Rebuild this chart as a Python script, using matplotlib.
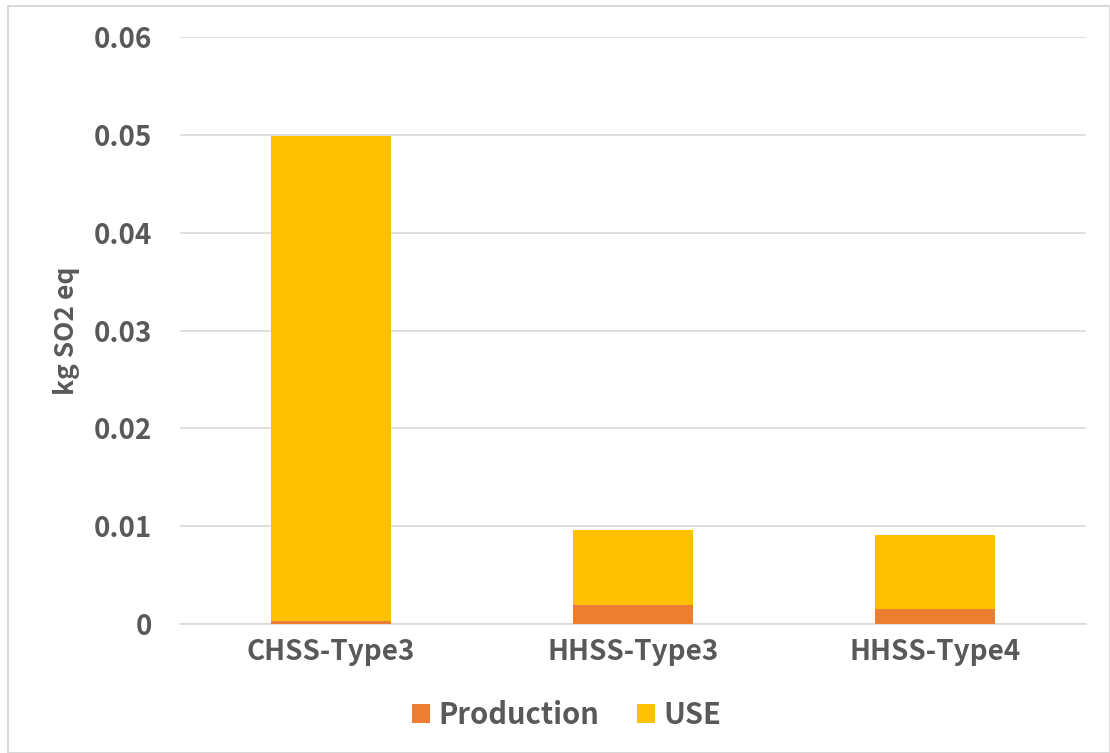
import matplotlib.pyplot as plt
from matplotlib.patches import Rectangle

plt.rcParams['font.family'] = ['Noto Sans CJK SC', 'DejaVu Sans']

categories = ["CHSS-Type3", "HHSS-Type3", "HHSS-Type4"]
production = [0.0003, 0.0019, 0.0015]
use = [0.0496, 0.0077, 0.0076]
yticks = [0, 0.01, 0.02, 0.03, 0.04, 0.05, 0.06]
ytick_labels = ["0", "0.01", "0.02", "0.03", "0.04", "0.05", "0.06"]

c_prod = "#ED7D31"
c_use = "#FFC000"
txt = "#595959"

fig = plt.figure(figsize=(11.10, 7.53), dpi=100)
ax = fig.add_axes([180 / 1110, 1 - 624 / 753, 906 / 1110, (624 - 37) / 753])

x = range(len(categories))
ax.bar(x, production, width=0.4, color=c_prod, label="Production", zorder=3)
ax.bar(x, use, width=0.4, bottom=production, color=c_use, label="USE", zorder=3)

ax.set_xlim(-0.5, 2.5)
ax.set_ylim(0, 0.06)
ax.set_yticks(yticks)
ax.set_yticklabels(ytick_labels)
ax.set_xticks(list(x))
ax.set_xticklabels(categories)
ax.yaxis.grid(True, color="#D9D9D9", linewidth=1.2, zorder=0)
ax.set_axisbelow(True)
for s in ["top", "right", "left"]:
    ax.spines[s].set_visible(False)
ax.spines["bottom"].set_color("#D9D9D9")
ax.spines["bottom"].set_linewidth(1.2)
ax.tick_params(axis="both", length=0, colors=txt, labelsize=20)
ax.tick_params(axis="y", pad=20)
ax.tick_params(axis="x", pad=10)
for lab in ax.get_xticklabels() + ax.get_yticklabels():
    lab.set_fontweight("bold")
    lab.set_color(txt)

ax.set_ylabel("kg SO2 eq", fontsize=19, fontweight="bold", color=txt, labelpad=10)

leg = fig.legend(loc="center", bbox_to_anchor=(567 / 1110, 1 - 715 / 753), ncol=2,
                 frameon=False, fontsize=21, handlelength=0.6, handleheight=0.6,
                 columnspacing=1.3, handletextpad=0.3)
for t in leg.get_texts():
    t.set_fontweight("bold")
    t.set_color(txt)

# Chart area border
fig.patches.append(Rectangle((8 / 1110, 0), 1 - 8 / 1110, 1 - 6 / 753,
                             transform=fig.transFigure, fill=False,
                             edgecolor="#D9D9D9", linewidth=1.5))

fig.savefig("out.png", dpi=100)
